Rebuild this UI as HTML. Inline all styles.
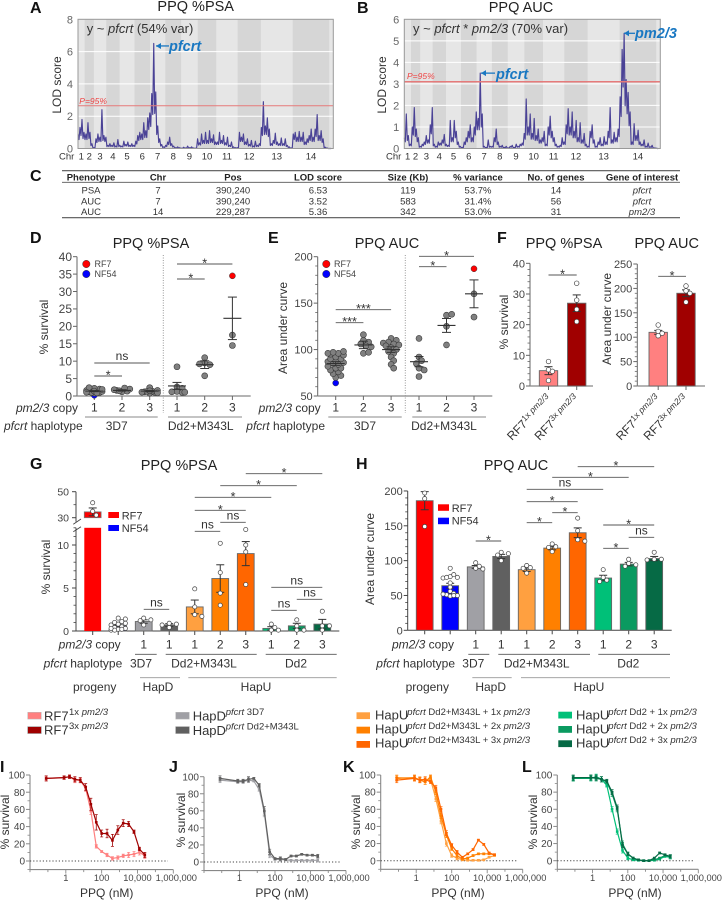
<!DOCTYPE html>
<html lang="en">
<head>
<meta charset="utf-8">
<title>PPQ QTL and phenotype figure</title>
<style>
html,body{margin:0;padding:0;background:#fff;width:723px;height:900px;overflow:hidden}
svg{display:block}
text{font-family:"Liberation Sans",sans-serif;fill:#333}
.ttl{font-size:14.5px;text-anchor:middle;fill:#222}
.ltr{font-size:16px;font-weight:bold;fill:#111}
.th{font-size:9.5px;font-weight:bold;text-anchor:middle;fill:#222}
.td{font-size:9.5px;text-anchor:middle;fill:#333}
.lab{font-size:12px;fill:#333}
.mid{text-anchor:middle}
.end{text-anchor:end}
.yl{font-size:12px;text-anchor:middle;fill:#333}
.qtl{font-size:14.5px;font-weight:bold;font-style:italic;fill:#1a78c2}
.leg{font-size:13px;fill:#333}
.sup{font-size:9.5px;fill:#333}
.mini{font-size:9px;fill:#444}
</style>
</head>
<body>
<svg id="fig" xmlns="http://www.w3.org/2000/svg" width="723" height="900" viewBox="0 0 723 900">
<rect x="0" y="0" width="723" height="900" fill="#fff"/>

<g id="panel-a"></g>
<g id="panel-b"></g>
<g id="panel-d"></g>
<g id="panel-e"></g>
<g id="panel-f1"></g>
<g id="panel-f2"></g>
<g id="panel-g"></g>
<g id="panel-h"></g>
<g id="panel-i"></g>
<g id="panel-j"></g>
<g id="panel-k"></g>
<g id="panel-l"></g>

<!-- Panel A and B text -->
<text class="ltr" x="30" y="13">A</text>
<text class="ttl" x="195.7" y="11">PPQ %PSA</text>
<text x="86.7" y="33" font-size="13">y ~ <tspan font-style="italic">pfcrt</tspan> (54% var)</text>
<text class="qtl" x="169" y="51">pfcrt</text>
<text x="79.3" y="104" font-size="8.5" font-style="italic" style="fill:#ee4444">P=95%</text>
<text class="yl" transform="translate(61,85) rotate(-90)">LOD score</text>
<text x="59" y="159.5" font-size="9.5">Chr</text>

<text class="ltr" x="357" y="13">B</text>
<text class="ttl" x="521" y="12">PPQ AUC</text>
<text x="413" y="33" font-size="13">y ~ <tspan font-style="italic">pfcrt</tspan> * <tspan font-style="italic">pm2/3</tspan> (70% var)</text>
<text class="qtl" x="496" y="79">pfcrt</text>
<text class="qtl" x="635" y="38">pm2/3</text>
<text x="407" y="79" font-size="8.5" font-style="italic" style="fill:#ee4444">P=95%</text>
<text class="yl" transform="translate(386,85) rotate(-90)">LOD score</text>
<text x="386" y="159.5" font-size="9.5">Chr</text>

<!-- Panel C table -->
<g>
<text class="ltr" x="30" y="181">C</text>
<line x1="62" x2="680" y1="170.7" y2="170.7" stroke="#555" stroke-width="1.2"/>
<line x1="62" x2="680" y1="182.3" y2="182.3" stroke="#555" stroke-width="0.8"/>
<line x1="62" x2="680" y1="217.7" y2="217.7" stroke="#555" stroke-width="1.2"/>
<text class="th" x="91" y="180.3">Phenotype</text>
<text class="th" x="158" y="180.3">Chr</text>
<text class="th" x="233" y="180.3">Pos</text>
<text class="th" x="318" y="180.3">LOD score</text>
<text class="th" x="408" y="180.3">Size (Kb)</text>
<text class="th" x="478" y="180.3">% variance</text>
<text class="th" x="556" y="180.3">No. of genes</text>
<text class="th" x="642" y="180.3">Gene of interest</text>
<g>
<text class="td" x="91" y="193.5">PSA</text><text class="td" x="158" y="193.5">7</text><text class="td" x="233" y="193.5">390,240</text><text class="td" x="318" y="193.5">6.53</text><text class="td" x="408" y="193.5">119</text><text class="td" x="478" y="193.5">53.7%</text><text class="td" x="556" y="193.5">14</text><text class="td" x="642" y="193.5" font-style="italic">pfcrt</text>
</g>
<g>
<text class="td" x="91" y="204.5">AUC</text><text class="td" x="158" y="204.5">7</text><text class="td" x="233" y="204.5">390,240</text><text class="td" x="318" y="204.5">3.52</text><text class="td" x="408" y="204.5">583</text><text class="td" x="478" y="204.5">31.4%</text><text class="td" x="556" y="204.5">56</text><text class="td" x="642" y="204.5" font-style="italic">pfcrt</text>
</g>
<g>
<text class="td" x="91" y="215">AUC</text><text class="td" x="158" y="215">14</text><text class="td" x="233" y="215">229,287</text><text class="td" x="318" y="215">5.36</text><text class="td" x="408" y="215">342</text><text class="td" x="478" y="215">53.0%</text><text class="td" x="556" y="215">31</text><text class="td" x="642" y="215" font-style="italic">pm2/3</text>
</g>
</g>

<!-- Panel D text -->
<text class="ltr" x="30" y="243">D</text>
<text class="ttl" x="151" y="248">PPQ %PSA</text>
<text class="yl" transform="translate(48,327) rotate(-90)">% survival</text>
<circle cx="86.3" cy="264" r="3.7" fill="#f00" stroke="#333" stroke-width=".5"/>
<circle cx="86.3" cy="274" r="3.7" fill="#00f" stroke="#333" stroke-width=".5"/>
<text class="mini" x="94.5" y="267">RF7</text>
<text class="mini" x="94.5" y="277">NF54</text>
<text class="lab end" x="78" y="412"><tspan font-style="italic">pm2/3</tspan> copy</text>
<text class="lab end" x="82.7" y="430"><tspan font-style="italic">pfcrt</tspan> haplotype</text>
<line x1="85" x2="157.7" y1="417" y2="417" stroke="#888"/>
<line x1="168" x2="242" y1="417" y2="417" stroke="#888"/>
<text class="lab mid" x="116.7" y="430">3D7</text>
<text class="lab mid" x="200.7" y="430">Dd2+M343L</text>

<!-- Panel E text -->
<text class="ltr" x="268" y="243">E</text>
<text class="ttl" x="387" y="248">PPQ AUC</text>
<text class="yl" transform="translate(287,328) rotate(-90)">Area under curve</text>
<circle cx="326.3" cy="264" r="3.7" fill="#f00" stroke="#333" stroke-width=".5"/>
<circle cx="326.3" cy="274" r="3.7" fill="#00f" stroke="#333" stroke-width=".5"/>
<text class="mini" x="334" y="267">RF7</text>
<text class="mini" x="334" y="277">NF54</text>
<text class="lab end" x="320.7" y="412"><tspan font-style="italic">pm2/3</tspan> copy</text>
<text class="lab end" x="325" y="430"><tspan font-style="italic">pfcrt</tspan> haplotype</text>
<line x1="328.3" x2="401.7" y1="417" y2="417" stroke="#888"/>
<line x1="412.3" x2="486" y1="417" y2="417" stroke="#888"/>
<text class="lab mid" x="365" y="430">3D7</text>
<text class="lab mid" x="444" y="430">Dd2+M343L</text>

<!-- Panel F text -->
<text class="ltr" x="497" y="243">F</text>
<text class="ttl" x="564" y="248">PPQ %PSA</text>
<text class="ttl" x="666.7" y="248">PPQ AUC</text>
<text class="yl" transform="translate(508,322) rotate(-90)">% survival</text>
<text class="yl" transform="translate(611,319) rotate(-90)">Area under curve</text>
<text transform="translate(512,441) rotate(-46)" font-size="12">RF7<tspan font-size="8.5" dy="-4">1x <tspan font-style="italic">pm2/3</tspan></tspan></text>
<text transform="translate(539.5,441) rotate(-46)" font-size="12">RF7<tspan font-size="8.5" dy="-4">3x <tspan font-style="italic">pm2/3</tspan></tspan></text>
<text transform="translate(621,441) rotate(-46)" font-size="12">RF7<tspan font-size="8.5" dy="-4">1x <tspan font-style="italic">pm2/3</tspan></tspan></text>
<text transform="translate(648.5,441) rotate(-46)" font-size="12">RF7<tspan font-size="8.5" dy="-4">3x <tspan font-style="italic">pm2/3</tspan></tspan></text>

<!-- Panel G text -->
<text class="ltr" x="30" y="469">G</text>
<text class="ttl" x="179" y="470">PPQ %PSA</text>
<text class="yl" transform="translate(50,567) rotate(-90)">% survival</text>
<rect x="108.3" y="512" width="10.7" height="6" fill="#f00"/>
<rect x="108.3" y="525" width="10.7" height="6" fill="#00f"/>
<text x="121.7" y="519.5" font-size="11">RF7</text>
<text x="121.7" y="532" font-size="11">NF54</text>
<text class="lab end" x="120.7" y="648.5"><tspan font-style="italic">pm2/3</tspan> copy</text>
<text class="lab end" x="122.3" y="667.5"><tspan font-style="italic">pfcrt</tspan> haplotype</text>
<g stroke="#555" stroke-width=".9">
<line x1="135" x2="156.7" y1="654.3" y2="654.3"/><line x1="165.7" x2="256.7" y1="654.3" y2="654.3"/><line x1="265.7" x2="336.7" y1="654.3" y2="654.3"/>
<line x1="140" x2="180" y1="677.7" y2="677.7" stroke="#999"/><line x1="188.3" x2="336.7" y1="677.7" y2="677.7" stroke="#999"/>
</g>
<text class="lab mid" x="141" y="667.5">3D7</text>
<text class="lab mid" x="204" y="667.5">Dd2+M343L</text>
<text class="lab mid" x="296" y="667.5">Dd2</text>
<text class="lab mid" x="94.7" y="691">progeny</text>
<text class="lab mid" x="158" y="691">HapD</text>
<text class="lab mid" x="256" y="691">HapU</text>

<!-- Panel H text -->
<text class="ltr" x="356" y="469">H</text>
<text class="ttl" x="516" y="470">PPQ AUC</text>
<text class="yl" transform="translate(374,559) rotate(-90)">Area under curve</text>
<rect x="438" y="504.3" width="11" height="6.5" fill="#f00"/>
<rect x="438" y="517.7" width="11" height="6.5" fill="#00f"/>
<text x="451.7" y="512" font-size="11">RF7</text>
<text x="451.7" y="524.5" font-size="11">NF54</text>
<text class="lab end" x="454" y="648.5"><tspan font-style="italic">pm2/3</tspan> copy</text>
<text class="lab end" x="455" y="667.5"><tspan font-style="italic">pfcrt</tspan> haplotype</text>
<g stroke="#555" stroke-width=".9">
<line x1="468.3" x2="489.3" y1="654.3" y2="654.3"/><line x1="498.3" x2="590" y1="654.3" y2="654.3"/><line x1="598.3" x2="670" y1="654.3" y2="654.3"/>
<line x1="472.3" x2="511.7" y1="677.7" y2="677.7" stroke="#999"/><line x1="521" x2="670" y1="677.7" y2="677.7" stroke="#999"/>
</g>
<text class="lab mid" x="473.3" y="667.5">3D7</text>
<text class="lab mid" x="536.7" y="667.5">Dd2+M343L</text>
<text class="lab mid" x="628.3" y="667.5">Dd2</text>
<text class="lab mid" x="427.3" y="691">progeny</text>
<text class="lab mid" x="490.7" y="691">HapD</text>
<text class="lab mid" x="589" y="691">HapU</text>

<!-- Shared legends -->
<g>
<rect x="27.7" y="712.3" width="13.6" height="6.8" fill="#ff8080" stroke="#bbb" stroke-width=".5"/>
<rect x="27.7" y="726.7" width="13.6" height="6.8" fill="#a00000" stroke="#888" stroke-width=".5"/>
<text class="leg" x="44" y="720.5">RF7</text><text class="sup" x="69" y="715">1x <tspan font-style="italic">pm2/3</tspan></text>
<text class="leg" x="44" y="734.5">RF7</text><text class="sup" x="69" y="729">3x <tspan font-style="italic">pm2/3</tspan></text>
</g>
<g>
<rect x="175.7" y="712.3" width="13.6" height="6.8" fill="#a0a0a5" stroke="#bbb" stroke-width=".5"/>
<rect x="175.7" y="726.7" width="13.6" height="6.8" fill="#606060" stroke="#888" stroke-width=".5"/>
<text class="leg" x="192.7" y="720.5">HapD</text><text class="sup" x="225.7" y="715"><tspan font-style="italic">pfcrt</tspan> 3D7</text>
<text class="leg" x="192.7" y="735">HapD</text><text class="sup" x="225.7" y="729.5"><tspan font-style="italic">pfcrt</tspan> Dd2+M343L</text>
</g>
<g>
<rect x="356.5" y="712.3" width="13.5" height="6.8" fill="#ffa040"/>
<rect x="356.5" y="726.7" width="13.5" height="6.8" fill="#ff8000"/>
<rect x="356.5" y="741" width="13.5" height="6.8" fill="#ff6600"/>
<text class="leg" x="375" y="719.5">HapU</text><text class="sup" x="407.3" y="715"><tspan font-style="italic">pfcrt</tspan> Dd2+M343L + 1x <tspan font-style="italic">pm2/3</tspan></text>
<text class="leg" x="375" y="733.5">HapU</text><text class="sup" x="407.3" y="729"><tspan font-style="italic">pfcrt</tspan> Dd2+M343L + 2x <tspan font-style="italic">pm2/3</tspan></text>
<text class="leg" x="375" y="747.5">HapU</text><text class="sup" x="407.3" y="743"><tspan font-style="italic">pfcrt</tspan> Dd2+M343L + 3x <tspan font-style="italic">pm2/3</tspan></text>
</g>
<g>
<rect x="558.3" y="711.7" width="13.7" height="6.8" fill="#00c078"/>
<rect x="558.3" y="726" width="13.7" height="6.8" fill="#0a9a60"/>
<rect x="558.3" y="740.3" width="13.7" height="6.8" fill="#066a45"/>
<text class="leg" x="576" y="719.5">HapU</text><text class="sup" x="608.3" y="715"><tspan font-style="italic">pfcrt</tspan> Dd2 + 1x <tspan font-style="italic">pm2/3</tspan></text>
<text class="leg" x="576" y="733.5">HapU</text><text class="sup" x="608.3" y="729"><tspan font-style="italic">pfcrt</tspan> Dd2 + 2x <tspan font-style="italic">pm2/3</tspan></text>
<text class="leg" x="576" y="747.5">HapU</text><text class="sup" x="608.3" y="743"><tspan font-style="italic">pfcrt</tspan> Dd2 + 3x <tspan font-style="italic">pm2/3</tspan></text>
</g>

<!-- Dose panels text -->
<text class="ltr" x="0" y="772">I</text>
<text class="ltr" x="169" y="772">J</text>
<text class="ltr" x="343" y="772">K</text>
<text class="ltr" x="522" y="772">L</text>
<text class="yl" transform="translate(9,822) rotate(-90)">% survival</text>
<text class="yl" transform="translate(185,820) rotate(-90)">% survival</text>
<text class="yl" transform="translate(360,822) rotate(-90)">% survival</text>
<text class="yl" transform="translate(537,822) rotate(-90)">% survival</text>
<text class="lab mid" x="106.7" y="897">PPQ (nM)</text>
<text class="lab mid" x="282" y="897">PPQ (nM)</text>
<text class="lab mid" x="458" y="897">PPQ (nM)</text>
<text class="lab mid" x="635" y="897">PPQ (nM)</text>
</svg>

<script>
/* ---------- chromosome + LOD data ---------- */
const chromLengthsMb = [0.61,0.84,1.14,1.22,1.37,1.42,1.40,1.45,1.52,1.70,1.95,2.13,2.92,3.35];
const genomeTailMb = 0.37;
const lodStepMb = 0.1826;
const lodTroughRatio = 0.62;
const chrNames = ['1','2','3','4','5','6','7','8','9','10','11','12','13','14'];
const lodTicksA = [0,2,4,6,8];
const lodTicksB = [0,1,2,3,4,5,6];
const thresholdA = 2.65;
const thresholdB = 3.1;
const lodA = [
.9,1.3,1.8,1.0,.9,1.6,1.0,.3,
.05,.6,.9,.7,2.4,.8,.7,.2,
.3,.2,.35,.15,.55,.2,.15,.45,
.25,.4,.2,.3,.2,.45,.8,1.0,
.9,1.6,1.1,1.9,2.2,3.4,6.5,3.5,
1.4,.6,.25,.1,.2,.4,.7,.3,
.15,.05,.1,.05,.02,.08,.03,.15,
.05,.1,.03,.02,.6,.35,.9,.5,
1.0,.5,1.1,.6,.85,.4,.4,1.0,
.5,.8,.35,.7,.2,.4,.1,.05,
.05,1.0,.7,.9,.4,.6,.25,.5,
.15,.45,.2,.3,1.3,2.9,1.4,1.9,
1.2,.3,.5,.95,.4,.3,.65,.3,
.6,.2,.1,.03,.9,1.0,.7,1.05,
.7,1.0,.4,.6,.8,1.2,.7,1.2,
2.1,.8,1.1,.6,.08,.03,0,0];
const lodB = [
.5,1.6,.6,.2,1.0,1.9,.9,.5,
.1,.2,.3,.6,.4,1.1,1.9,.2,
.1,.3,.25,.4,.65,.2,.15,1.3,
.5,1.3,.8,.3,.1,.05,.3,.5,
.8,1.1,.5,1.0,1.7,1.4,3.5,1.6,
.1,.05,.4,.1,.1,.5,.9,.3,
.1,.15,.05,.1,.03,.1,.15,.05,
.2,.1,.2,.25,.7,2.3,1.0,1.6,
.7,1.4,.6,.9,.4,.5,.8,.2,
1.0,1.5,.8,.5,.2,.1,.15,.5,
.3,1.1,1.85,1.0,1.7,.8,1.3,.5,
1.2,.4,.7,.2,.1,.8,1.1,.4,
.1,.3,.5,.2,.55,.3,.8,1.9,
.4,.75,.5,.9,2.4,4.6,5.35,3.2,
2.6,1.7,.3,1.15,.6,.85,.3,.2,
.4,.1,.25,.08,.15,.03,.02,0];

/* ---------- panel D ---------- */
const copyLabels3 = ['1','2','3','1','2','3'];
const dTicks = [0,5,10,15,20,25,30,35,40];
const dValues = [
 [.8,1,1.2,1.3,1.5,1.6,1.8,2,2.2,2.4,1.0,1.1,1.4,1.9,.9],
 [1.2,1.4,1.6,2,2.3,1.8,1.5],
 [.8,1,1.2,1.4,1.6,2.4,1.1,1.3,.9,1.5],
 [8.4,2.6,2.2,1.3,1,1.2,1.1],
 [11,9.5,9,9.2,5.8],
 [17.5,14.5]];
const dMeans = [1.4,1.6,1.4,2.9,9,22.3];
const dSems = [.15,.2,.2,1.0,1.1,6.1];
const dRF7Value = 34.5;
const dNF54Value = 0.2;

/* ---------- panel E ---------- */
const eTicks = [50,100,150,200];
const eValues = [
 [70,72,74,76,78,80,80,82,84,85,86,87,88,90,90,92,94,95,96,96,97,98],
 [116,110,108,106,104,103,96,97],
 [112,110,108,107,106,105,104,102,100,98,96,92,88,84,80],
 [112,92,88,85,80,78,71],
 [137,138,125,105],
 [160,135]];
const eMeans = [85,105,100,87,126,160];
const eSems = [2,4,3,5.5,7.5,15];
const eRF7Value = 187;
const eNF54Value = 64;

/* ---------- panel F ---------- */
const fPsaTicks = [0,10,20,30,40];
const fPsaMeans = [5,27];
const fPsaSems = [1.3,2.7];
const fPsaPoints = [[8,5.3,4.8,1.8],[33.5,28,25,21]];
const fAucTicks = [0,50,100,150,200,250];
const fAucMeans = [110,190];
const fAucSems = [4,7];
const fAucPoints = [[125,112,108,103],[205,195,190,172]];
const fColors = ['#ff8080','#a00000'];

/* ---------- panels G and H ---------- */
const groupColors = ['#ff0000','#0000ff','#a0a0a5','#606060','#ffa040','#ff8000','#ff6600','#00c078','#0a9a60','#066a45'];
const barCopyLabels = ['','','1','1','1','2','3','1','2','3'];
const gMajorTicks = [0,5,10,30,50];
const gMeans = [34.5,.6,1.1,.7,2.8,6.1,9,.3,.6,.8];
const gSems = [3,.1,.2,.15,.8,1.6,1.4,.2,.3,.55];
const gPoints = [
 [41.5,35,32],
 [1.5,1.4,1.1,1,.9,.8,.7,.5,.4,.3,.2,.1,.2,.1,.3],
 [1.5,1.3,1.2,.7],
 [.9,.8,.7,.4],
 [4.9,2.8,1.9,1.7],
 [10.2,6.8,4.4,3],
 [11.8,10,9.2,5.4],
 [.8,.4,.1,.1],
 [1.3,.6,.1,.1],
 [2.3,.6,.6,.1]];
const hTicks = [0,50,100,150,200];
const hMeans = [186,64,91,106,87,118,140,75,95,103];
const hSems = [13,3.5,2,3,2.5,2.5,7,4,2.5,3];
const hPoints = [
 [197,189,149],
 [89,77,76,75,76,80,68,62,56,53,51,50,52,49,50],
 [97,92,89,88],
 [112,110,108,100],
 [93,90,89,82],
 [124,120,119,113],
 [161,143,130,128],
 [87,76,72,70],
 [102,96,94,92],
 [112,102,102,101]];

/* ---------- panels I-L ---------- */
const doseNM = [0.08,0.8,1.6,3.2,6.4,12.8,25,50,100,200,400,800,1600,3200,6400,12800,25600];
const doseTickValues = [1,100,10000,1000000];
const doseTickLabels = ['1','100','10,000','1,000,000'];
const doseYTicks = [0,20,40,60,80,100];
const iSeries1x = [96,97,98,94,94,84,58,17,11,7,3,4,6,7,8,10,6];
const iSeries3x = [96,97,98,95,94,86,66,45,32,32,24,36,44,43,34,14,7];
const iErrors3x = [3,2,2,3,3,4,7,9,4,5,7,5,4,3,2,2,3];
const iErrors1x = [2,2,2,3,2,3,4,2,1,2,2,2,2,3,3,3,3];
const jSeries3D7 = [96,94,94,96,95,85,58,8,3,3,2.5,2,2,2,2,2,2];
const jSeriesDd2 = [98,95,95,97,98,90,60,12,4,4,3,7,7,9,8,8,7];
const jErrors = [3,2,2,3,1,2,5,3,1,2,1,1,1,1,1,1,2];
const kSeries1x = [97,96,95,94,95,72,46,20,6,3,1,.5,.5,.5,1,4,6];
const kSeries2x = [96,97,94,92,98,80,52,30,14,6,2,3,6,8,8,8,7];
const kSeries3x = [94,96,94,95,92,85,60,32,18,10,4,8,13,24,19,9,7];
const kErrors = [3,3,3,3,2,3,3,3,2,2,1,1,1,1,1,1,1];
const lSeries1x = [96,96,98,95,88,60,34,12,3,1,.5,0,0,.5,2,5,4];
const lSeries2x = [96,97,96,95,92,78,60,20,8,3,1,0,0,1,3,6,5];
const lSeries3x = [97,97,97,95,93,80,62,18,8,3,1,0,0,3,9,7,5];
const lErrors = [3,3,3,3,2,3,3,3,2,1,1,1,1,1,1,1,2];

/* ---------- drawing helpers ---------- */
const NS = 'http://www.w3.org/2000/svg';
function mk(tag, attrs, name, parent){
  const el = document.createElementNS(NS, tag);
  for (const k in attrs) el.setAttribute(k, attrs[k]);
  
  
  parent.appendChild(el);
  return el;
}
function line(p, x1, y1, x2, y2, stroke, w, name){
  return mk('line', {x1:x1, y1:y1, x2:x2, y2:y2, stroke:stroke, 'stroke-width':w}, name, p);
}
function txt(p, x, y, s, size, anchor, fill, name){
  const t = mk('text', {x:x, y:y, 'font-size':size, 'text-anchor':anchor, style:'fill:'+fill}, name, p);
  t.textContent = s;
  return t;
}
/* non-overlapping jitter, clamped to a maximum half width */
function swarm(values, y, minDist, step, maxOff){
  const placed = [];
  return values.map(v => {
    const py = y(v);
    let best = 0, bestD = -1;
    for (let k = 0; ; k++){
      const off = (k % 2 ? 1 : -1) * Math.ceil(k / 2) * step;
      if (Math.abs(off) > maxOff) break;
      let d = Infinity;
      placed.forEach(q => { d = Math.min(d, Math.hypot(q[0]-off, q[1]-py)); });
      if (d > bestD){ bestD = d; best = off; }
      if (d >= minDist) break;
    }
    placed.push([best, py]);
    return {off:best, y:py};
  });
}
function bracket(p, x1, x2, y, label, pre){
  line(p, x1, y, x2, y, '#555', .9, pre+'-sig-line');
  const isStar = label.indexOf('*') === 0;
  txt(p, (x1+x2)/2, isStar ? y+3.5 : y-3, label, isStar ? 12.5 : 12, 'middle', '#333', pre+'-sig-label');
}
function yAxis(p, x, y, top, bottom, ticks, minors, size, pre, color){
  line(p, x, y(top), x, y(bottom), color, 1, pre+'-y-axis');
  ticks.forEach(t => {
    line(p, x-4, y(t), x, y(t), color, 1, pre+'-y-tick');
    txt(p, x-5, y(t)+size*.36, String(t), size, 'end', '#444', pre+'-y-tick-label');
  });
  minors.forEach(t => line(p, x-2.5, y(t), x, y(t), color, .8, pre+'-y-minor-tick'));
}
function stepList(from, to, step){
  const out = [];
  for (let v = from; v <= to + 1e-9; v += step) out.push(v);
  return out;
}

/* ---------- LOD panels ---------- */
function drawLod(gid, left, right, top, bottom, lodTop, values, ticks, threshold, thW, pre, arrows){
  const g = document.getElementById(gid);
  const total = chromLengthsMb.reduce((a,b)=>a+b,0) + genomeTailMb;
  const x = mb => left + mb / total * (right-left);
  const y = v => bottom - v / lodTop * (bottom-top);
  mk('rect', {x:left, y:top, width:right-left, height:bottom-top, fill:'#e6e6e6'}, pre+'-plot-area', g);
  let pos = 0;
  chromLengthsMb.forEach((len,i) => {
    if (i % 2 === 1) mk('rect', {x:x(pos), y:top, width:x(pos+len)-x(pos), height:bottom-top, fill:'#d6d6d6'}, pre+'-chr-band', g);
    txt(g, x(pos+len/2), 159.5, chrNames[i], 9.5, 'middle', '#333', pre+'-chr-tick-label');
    pos += len;
  });
  ticks.forEach(t => {
    if (t > 0 && t < lodTop) line(g, left, y(t), right, y(t), '#fff', 1, pre+'-gridline');
    txt(g, left-5, y(t)+4, String(t), 11, 'end', '#666', pre+'-y-tick-label');
  });
  /* every window is drawn as peak then trough so the trace reads as a dense band */
  const pts = [];
  values.forEach((v,i) => {
    pts.push(x(i*lodStepMb).toFixed(2)+','+y(v).toFixed(1));
    if (i < values.length-1) pts.push(x((i+.5)*lodStepMb).toFixed(2)+','+y(Math.min(v,values[i+1])*lodTroughRatio).toFixed(1));
  });
  mk('polyline', {points:pts.join(' '), fill:'none', stroke:'#4a4296', 'stroke-width':1.15, 'stroke-linejoin':'round'}, pre+'-lod-trace', g);
  line(g, left, y(threshold), right, y(threshold), '#e57a7a', thW, pre+'-threshold-line');
  mk('rect', {x:left, y:top, width:right-left, height:bottom-top, fill:'none', stroke:'#999', 'stroke-width':1}, pre+'-plot-border', g);
  arrows.forEach(a => {
    const ay = y(a.lod);
    line(g, a.from, ay, a.to, ay, '#1a78c2', 1.3, pre+'-arrow-shaft');
    mk('path', {d:'M'+a.from+' '+ay+'l5 -3v6z', fill:'#1a78c2'}, pre+'-arrow-head', g);
  });
}
drawLod('panel-a', 78, 333.3, 19.3, 148.5, 8, lodA, lodTicksA, thresholdA, 1, 'panel-a',
  [{from:156, to:169, lod:6.35}]);
drawLod('panel-b', 404.3, 660.3, 19.3, 148.5, 6, lodB, lodTicksB, thresholdB, 1.6, 'panel-b',
  [{from:481, to:495, lod:3.5},{from:624, to:635, lod:5.35}]);

/* ---------- scatter panels ---------- */
function drawScatter(gid, cfg){
  const g = document.getElementById(gid);
  const pre = cfg.pre, y = cfg.y, x = cfg.x;
  yAxis(g, cfg.axisX, y, cfg.top, cfg.bottom, cfg.ticks, cfg.minors, cfg.tickSize, pre, '#666');
  line(g, cfg.axisX, y(cfg.bottom), cfg.axisEnd, y(cfg.bottom), '#888', 1.3, pre+'-x-axis');
  line(g, cfg.sep, 255, cfg.sep, 413, '#999', 1, pre+'-group-separator').setAttribute('stroke-dasharray','1 1.5');
  cfg.means.forEach((m,i) => {
    line(g, x(i), y(cfg.bottom), x(i), y(cfg.bottom)+4, '#666', 1, pre+'-x-tick');
    txt(g, x(i), 411.5, copyLabels3[i], 12, 'middle', '#333', pre+'-x-tick-label');
  });
  mk('circle', {cx:x(cfg.nf54Cat), cy:y(cfg.nf54), r:3, fill:'#0000ff', stroke:'#333', 'stroke-width':.5}, pre+'-point-nf54', g);
  cfg.means.forEach((m,i) => {
    swarm(cfg.values[i], y, cfg.minDist, cfg.step, cfg.maxOff).forEach(pt => {
      mk('circle', {cx:x(i)+pt.off, cy:pt.y, r:3, fill:'#808080', stroke:'#3a3a3a', 'stroke-width':.6}, pre+'-point-group-'+(i+1), g);
    });
  });
  mk('circle', {cx:x(cfg.rf7Cat), cy:y(cfg.rf7), r:3, fill:'#ff0000', stroke:'#333', 'stroke-width':.5}, pre+'-point-rf7', g);
  cfg.means.forEach((m,i) => {
    const s = cfg.sems[i];
    line(g, x(i)-9, y(m), x(i)+9, y(m), '#333', 1.1, pre+'-mean-line');
    line(g, x(i), y(m-s), x(i), y(m+s), '#333', 1, pre+'-sem-line');
    line(g, x(i)-4.5, y(m+s), x(i)+4.5, y(m+s), '#333', 1, pre+'-sem-cap');
    line(g, x(i)-4.5, y(m-s), x(i)+4.5, y(m-s), '#333', 1, pre+'-sem-cap');
  });
  cfg.brackets.forEach(b => bracket(g, x(b[0]), x(b[1]), b[2], b[3], pre));
}
const xD = i => i < 3 ? 94.3 + 27.7*i : 177 + 27.7*(i-3);
drawScatter('panel-d', {pre:'panel-d', x:xD, y:v => 396 - v*3.483, axisX:77, axisEnd:250.7, sep:163.3, top:40, bottom:0,
  ticks:dTicks, minors:[], tickSize:12, values:dValues, means:dMeans, sems:dSems,
  rf7:dRF7Value, rf7Cat:5, nf54:dNF54Value, nf54Cat:0, minDist:4, step:2.6, maxOff:8,
  brackets:[[0,2,363,'ns'],[0,1,376,'*'],[3,5,264,'*'],[3,4,279,'*']]});
const xE = i => i < 3 ? 335.7 + 27.7*i : 419 + 27.5*(i-3);
drawScatter('panel-e', {pre:'panel-e', x:xE, y:v => 396 - (v-50)*.9287, axisX:317.7, axisEnd:492.3, sep:405.3, top:200, bottom:50,
  ticks:eTicks, minors:stepList(60,190,10).filter(v=>v%50!==0), tickSize:11, values:eValues, means:eMeans, sems:eSems,
  rf7:eRF7Value, rf7Cat:5, nf54:eNF54Value, nf54Cat:0, minDist:4.5, step:2.6, maxOff:8,
  brackets:[[0,1,322.7,'***'],[0,2,309.7,'***'],[3,4,266.7,'*'],[3,5,256.3,'*']]});

/* ---------- bar panels ---------- */
function drawBarMarks(g, pre, x, y, base, means, sems, points, colors, width, r, piecewise){
  means.forEach((m,i) => {
    const cx = x(i), bx = cx - width/2;
    if (piecewise && m > piecewise.low){
      mk('rect', {x:bx, y:y(m), width:width, height:y(piecewise.high)-y(m), fill:colors[i], stroke:'#777', 'stroke-width':.8}, pre+'-bar-top-'+(i+1), g);
      mk('rect', {x:bx, y:y(piecewise.low), width:width, height:y(base)-y(piecewise.low), fill:colors[i]}, pre+'-bar-bottom-'+(i+1), g);
    } else {
      mk('rect', {x:bx, y:y(m), width:width, height:y(base)-y(m), fill:colors[i], stroke:'#666', 'stroke-width':.9}, pre+'-bar-'+(i+1), g);
    }
  });
  means.forEach((m,i) => {
    const s = sems[i], cx = x(i);
    line(g, cx, y(m-s < base ? base : m-s), cx, y(m+s), '#333', 1, pre+'-sem-line');
    line(g, cx-4, y(m+s), cx+4, y(m+s), '#333', 1, pre+'-sem-cap');
    if (m-s >= base) line(g, cx-4, y(m-s), cx+4, y(m-s), '#333', 1, pre+'-sem-cap');
    swarm(points[i], y, r*1.9, r*1.7, 7.5).forEach(pt => {
      mk('circle', {cx:cx+pt.off, cy:pt.y, r:r, fill:'#fff', stroke:'#444', 'stroke-width':.7}, pre+'-point-'+(i+1), g);
    });
  });
}
/* F */
(function(){
  const g1 = document.getElementById('panel-f1');
  const x1 = i => 548.5 + 28.2*i;
  const y1 = v => 386 - v*3.067;
  yAxis(g1, 530, y1, 40, 0, fPsaTicks, stepList(2,38,2).filter(v=>v%10!==0), 11, 'panel-f-psa', '#666');
  line(g1, 530, y1(0), 593, y1(0), '#888', 1.3, 'panel-f-psa-x-axis');
  [0,1].forEach(i => line(g1, x1(i), y1(0), x1(i), y1(0)+4, '#666', 1, 'panel-f-psa-x-tick'));
  drawBarMarks(g1, 'panel-f-psa', x1, y1, 0, fPsaMeans, fPsaSems, fPsaPoints, fColors, 18.4, 2.3);
  bracket(g1, 548.5, 576.7, 275, '*', 'panel-f-psa');

  const g2 = document.getElementById('panel-f2');
  const x2 = i => 658.2 + 27.8*i;
  const y2 = v => 386 - v*.488;
  yAxis(g2, 637.3, y2, 250, 0, fAucTicks, stepList(10,240,10).filter(v=>v%50!==0), 11, 'panel-f-auc', '#666');
  line(g2, 637.3, y2(0), 705, y2(0), '#888', 1.3, 'panel-f-auc-x-axis');
  [0,1].forEach(i => line(g2, x2(i), y2(0), x2(i), y2(0)+4, '#666', 1, 'panel-f-auc-x-tick'));
  drawBarMarks(g2, 'panel-f-auc', x2, y2, 0, fAucMeans, fAucSems, fAucPoints, fColors, 18.4, 2.3);
  bracket(g2, 658.2, 686, 276.3, '*', 'panel-f-auc');
})();
/* G */
(function(){
  const g = document.getElementById('panel-g');
  const x = i => 92.7 + 25.51*i;
  const yBreakLow = 12, yBreakHigh = 30;
  const y = v => v <= yBreakLow ? 631 - v*8.6 : 517.7 - (Math.max(v,yBreakHigh)-yBreakHigh)*1.3;
  line(g, 76, y(0), 76, y(12), '#444', 1, 'panel-g-y-axis-lower');
  line(g, 76, y(30)+4, 76, y(50), '#444', 1, 'panel-g-y-axis-upper');
  line(g, 73.3, 524.3, 81, 519, '#444', .9, 'panel-g-axis-break');
  line(g, 73.3, 531.7, 81, 526.7, '#444', .9, 'panel-g-axis-break');
  gMajorTicks.forEach(t => {
    line(g, 72, y(t), 76, y(t), '#444', 1, 'panel-g-y-tick');
    txt(g, 69, y(t)+3.8, String(t), 10.5, 'end', '#444', 'panel-g-y-tick-label');
  });
  stepList(1,12,1).filter(v=>v%5!==0).forEach(t => line(g, 73.5, y(t), 76, y(t), '#444', .8, 'panel-g-y-minor-tick'));
  line(g, 73.5, y(40), 76, y(40), '#444', .8, 'panel-g-y-minor-tick');
  line(g, 76, y(0), 339.3, y(0), '#444', 1, 'panel-g-x-axis');
  barCopyLabels.forEach((c,i) => {
    line(g, x(i), y(0), x(i), y(0)+4, '#444', 1, 'panel-g-x-tick');
    if (c) txt(g, x(i), 648.5, c, 12, 'middle', '#333', 'panel-g-x-tick-label');
  });
  drawBarMarks(g, 'panel-g', x, y, 0, gMeans, gSems, gPoints, groupColors, 16.8, 2.1, {low:yBreakLow, high:yBreakHigh});
  [[6,9,473.7,'*'],[5,8,485.7,'*'],[4,7,497.3,'*'],[4,6,510.3,'*'],[5,6,522.3,'ns'],[4,5,531.3,'ns'],
   [7,9,587.3,'ns'],[8,9,599.3,'ns'],[7,8,610.3,'ns'],[2,3,609.3,'ns']].forEach(b => bracket(g, x(b[0]), x(b[1]), b[2], b[3], 'panel-g'));
})();
/* H */
(function(){
  const g = document.getElementById('panel-h');
  const x = i => 424.7 + 25.5*i;
  const y = v => 630.3 - v*.6967;
  yAxis(g, 407.7, y, 200, 0, hTicks, stepList(10,190,10).filter(v=>v%50!==0), 11, 'panel-h', '#444');
  line(g, 407.7, y(0), 671.7, y(0), '#444', 1, 'panel-h-x-axis');
  barCopyLabels.forEach((c,i) => {
    line(g, x(i), y(0), x(i), y(0)+4, '#444', 1, 'panel-h-x-tick');
    if (c) txt(g, x(i), 648.5, c, 12, 'middle', '#333', 'panel-h-x-tick-label');
  });
  drawBarMarks(g, 'panel-h', x, y, 0, hMeans, hSems, hPoints, groupColors, 16.8, 2.1);
  [[6,9,466.7,'*'],[5,8,477.3,'*'],[4,7,489.3,'ns'],[4,6,501.7,'*'],[5,6,512.7,'*'],[4,5,522.7,'*'],
   [2,3,541,'*'],[7,9,525,'*'],[8,9,537.3,'ns'],[7,8,548.3,'*']].forEach(b => bracket(g, x(b[0]), x(b[1]), b[2], b[3], 'panel-h'));
})();

/* ---------- dose-response panels ---------- */
function drawDose(gid, pre, left, right, yTop, yZero, series){
  const g = document.getElementById(gid);
  const x = d => left + (Math.log10(d)+2) / 8 * (right-left);
  const y = v => yZero - v*(yZero-yTop)/100;
  const low = -10;
  line(g, left, y(100), left, y(low), '#888', 1.1, pre+'-y-axis');
  doseYTicks.forEach(t => {
    line(g, left-4, y(t), left, y(t), '#888', 1, pre+'-y-tick');
    txt(g, left-5, y(t)+3.6, String(t), 10, 'end', '#444', pre+'-y-tick-label');
  });
  stepList(10,90,20).forEach(t => line(g, left-2.5, y(t), left, y(t), '#888', .8, pre+'-y-minor-tick'));
  line(g, left-2.5, y(low), left, y(low), '#888', .8, pre+'-y-minor-tick');
  line(g, left, y(low), right, y(low), '#888', 1.1, pre+'-x-axis');
  stepList(-2,6,1).forEach(p => {
    const major = doseTickValues.indexOf(Math.pow(10,p)) >= 0;
    line(g, x(Math.pow(10,p)), y(low), x(Math.pow(10,p)), y(low)+(major?4:2.5), '#888', .9, pre+'-x-tick');
  });
  doseTickValues.forEach((v,i) => {
    /* the widest label sits slightly right of its tick, clear of its neighbour */
    const nudge = i === doseTickValues.length-1 ? 3 : 0;
    txt(g, x(v)+nudge, 881, doseTickLabels[i], 9.3, 'middle', '#444', pre+'-x-tick-label');
  });
  line(g, left, y(0), x(500000), y(0), '#444', 1, pre+'-zero-line').setAttribute('stroke-dasharray','1.2 2');
  series.forEach(s => {
    mk('polyline', {points:doseNM.map((d,i)=>x(d).toFixed(1)+','+y(s.values[i]).toFixed(1)).join(' '), fill:'none', stroke:s.color, 'stroke-width':1.2}, pre+'-line-'+s.key, g);
    doseNM.forEach((d,i) => {
      const v = s.values[i], e = s.errors[i];
      line(g, x(d), y(v-e), x(d), y(v+e), s.color, .8, pre+'-error-'+s.key);
      line(g, x(d)-1.5, y(v-e), x(d)+1.5, y(v-e), s.color, .7, pre+'-error-cap-'+s.key);
      line(g, x(d)-1.5, y(v+e), x(d)+1.5, y(v+e), s.color, .7, pre+'-error-cap-'+s.key);
      mk('rect', {x:x(d)-1.3, y:y(v)-1.3, width:2.6, height:2.6, fill:s.color}, pre+'-point-'+s.key, g);
    });
  });
}
drawDose('panel-i', 'panel-i', 30, 173.3, 775, 861, [
  {key:'1x', color:'#ff8080', values:iSeries1x, errors:iErrors1x},
  {key:'3x', color:'#a00000', values:iSeries3x, errors:iErrors3x}]);
drawDose('panel-j', 'panel-j', 204, 346, 776.7, 862, [
  {key:'3d7', color:'#a0a0a5', values:jSeries3D7, errors:jErrors},
  {key:'dd2', color:'#606060', values:jSeriesDd2, errors:jErrors}]);
drawDose('panel-k', 'panel-k', 380.7, 522.7, 775, 860.7, [
  {key:'1x', color:'#ffa040', values:kSeries1x, errors:kErrors},
  {key:'2x', color:'#ff8000', values:kSeries2x, errors:kErrors},
  {key:'3x', color:'#ff6600', values:kSeries3x, errors:kErrors}]);
drawDose('panel-l', 'panel-l', 557.3, 698.3, 775, 860.7, [
  {key:'1x', color:'#00c078', values:lSeries1x, errors:lErrors},
  {key:'2x', color:'#0a9a60', values:lSeries2x, errors:lErrors},
  {key:'3x', color:'#066a45', values:lSeries3x, errors:lErrors}]);
</script>
</body>
</html>
